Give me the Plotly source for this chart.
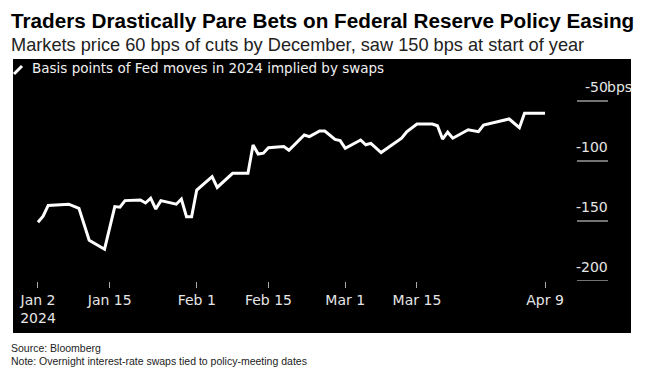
import plotly.graph_objects as go

# ---- data ----
dates = [
    "2024-01-01", "2024-01-02", "2024-01-03", "2024-01-06", "2024-01-07", "2024-01-09",
    "2024-01-11", "2024-01-14", "2024-01-16", "2024-01-17", "2024-01-18", "2024-01-21",
    "2024-01-22", "2024-01-23", "2024-01-24", "2024-01-25", "2024-01-27", "2024-01-28",
    "2024-01-29", "2024-01-30", "2024-01-31", "2024-02-01", "2024-02-04", "2024-02-05",
    "2024-02-08", "2024-02-11", "2024-02-12", "2024-02-13", "2024-02-14", "2024-02-15",
    "2024-02-18", "2024-02-19", "2024-02-22", "2024-02-23", "2024-02-25", "2024-02-26",
    "2024-02-28", "2024-02-29", "2024-03-01", "2024-03-04", "2024-03-05", "2024-03-06",
    "2024-03-08", "2024-03-10", "2024-03-12", "2024-03-13", "2024-03-15", "2024-03-18",
    "2024-03-19", "2024-03-20", "2024-03-21", "2024-03-22", "2024-03-25", "2024-03-27",
    "2024-03-28", "2024-04-02", "2024-04-04", "2024-04-05", "2024-04-09",
]
bps_implied = [
    -151, -146, -137, -136, -136, -139.5,
    -166, -173.5, -138, -138.5, -133, -132.5,
    -135, -131, -140, -133, -134.7, -136,
    -131.7, -146.4, -146.4, -124.2, -113, -122,
    -110.3, -110.3, -86.7, -94.2, -93.5, -89,
    -88, -91, -78.3, -79.7, -75, -75,
    -82, -83, -89.4, -82.5, -86.5, -85.3,
    -93, -86.7, -81, -75.6, -69.2, -69.2,
    -70.6, -81.7, -76, -81, -74, -75.6,
    -70, -65, -72.2, -60.3, -60.3,
]
x_tick_dates = ["2024-01-01", "2024-01-15", "2024-02-01", "2024-02-15", "2024-03-01", "2024-03-15", "2024-04-09"]
x_tick_labels = ["Jan 2<br>2024", "Jan 15", "Feb 1", "Feb 15", "Mar 1", "Mar 15", "Apr 9"]
y_tick_vals = [-50, -100, -150, -200]
y_tick_labels = ["-50", "-100", "-150", "-200"]
y_unit = "bps"

title = "Traders Drastically Pare Bets on Federal Reserve Policy Easing"
subtitle = "Markets price 60 bps of cuts by December, saw 150 bps at start of year"
legend_label = "Basis points of Fed moves in 2024 implied by swaps"
source = "Source: Bloomberg"
note = "Note: Overnight interest-rate swaps tied to policy-meeting dates"

# ---- layout geometry (pixels) ----
W, H = 645, 377
L, R, T, B = 13, 631, 59, 281   # plot area
BLACK_BOTTOM = 333

def px(x):
    return (x - L) / (R - L)

def py(y):
    return (B - y) / (B - T)

TICKFONT = "DejaVu Sans"
SANS = "Liberation Sans"

fig = go.Figure()
fig.add_trace(go.Scatter(
    x=dates, y=bps_implied, mode="lines",
    line=dict(color="white", width=3), hoverinfo="skip", showlegend=False,
))

shapes = [
    dict(type="rect", xref="paper", yref="paper", x0=0, x1=1, y0=py(BLACK_BOTTOM), y1=1,
         fillcolor="black", line=dict(width=0), layer="below"),
    dict(type="line", xref="paper", yref="paper", x0=px(14), y0=py(74), x1=px(22), y1=py(66),
         line=dict(color="white", width=3)),
]
annotations = []
for v, lab in zip(y_tick_vals, y_tick_labels):
    shapes.append(dict(type="line", xref="paper", yref="y", x0=px(577), x1=px(608), y0=v, y1=v,
                       line=dict(color="#9a9a9a", width=1.5)))
    annotations.append(dict(xref="paper", yref="y", x=px(610), y=v, yshift=14, text=lab,
                            showarrow=False, xanchor="right", yanchor="middle",
                            font=dict(family=TICKFONT, size=14, color="#e6e6e6")))
annotations.append(dict(xref="paper", yref="y", x=px(605), y=y_tick_vals[0], yshift=14, text=y_unit,
                        showarrow=False, xanchor="left", yanchor="middle",
                        font=dict(family=TICKFONT, size=14, color="#e6e6e6")))

annotations += [
    dict(xref="paper", yref="paper", x=px(9), y=py(20.5), text="<b>" + title + "</b>", showarrow=False,
         xanchor="left", yanchor="middle", font=dict(family=SANS, size=20.7, color="black")),
    dict(xref="paper", yref="paper", x=px(9), y=py(45), text=subtitle, showarrow=False,
         xanchor="left", yanchor="middle", font=dict(family=SANS, size=18.2, color="#222222")),
    dict(xref="paper", yref="paper", x=px(30), y=py(68), text=legend_label, showarrow=False,
         xanchor="left", yanchor="middle", font=dict(family=TICKFONT, size=13.5, color="#f0f0f0")),
    dict(xref="paper", yref="paper", x=px(9), y=py(348), text=source, showarrow=False,
         xanchor="left", yanchor="middle", font=dict(family=SANS, size=10.5, color="#222222")),
    dict(xref="paper", yref="paper", x=px(9), y=py(361), text=note, showarrow=False,
         xanchor="left", yanchor="middle", font=dict(family=SANS, size=10.5, color="#222222")),
]

fig.update_layout(
    width=W, height=H,
    margin=dict(l=L, r=W - R, t=T, b=H - B, pad=0),
    paper_bgcolor="white", plot_bgcolor="black",
    shapes=shapes, annotations=annotations,
    xaxis=dict(
        type="date", range=["2023-12-27 03:00", "2024-04-25 19:00"],
        tickvals=x_tick_dates, ticktext=x_tick_labels,
        ticks="outside", ticklen=6, tickcolor="#aaaaaa", tickwidth=1,
        showgrid=False, zeroline=False, showline=False,
        tickfont=dict(family=TICKFONT, size=14, color="#e6e6e6"),
    ),
    yaxis=dict(
        range=[-200, -15], showgrid=False, zeroline=False, showline=False,
        showticklabels=False, ticks="",
    ),
)

fig.write_html("out.html", config={"displayModeBar": False},
               post_script="document.body.style.margin='0';")
